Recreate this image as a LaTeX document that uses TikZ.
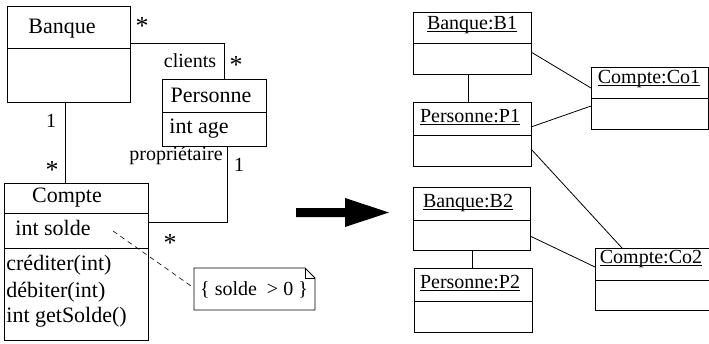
\documentclass[tikz,border=0pt]{standalone}
\usepackage{fontspec}
\setmainfont{Liberation Serif}
\newcommand\myul[1]{\setbox0\hbox{#1}\rlap{\rule[-2.6pt]{\wd0}{0.7pt}}\box0}
\begin{document}
\begin{tikzpicture}[x=1pt,y=-1pt,line width=0.8pt,
  box/.style={draw,inner sep=0pt,outer sep=0pt,anchor=north west},
  big/.style={inner sep=0pt,font=\fontsize{22}{24}\selectfont},
  med/.style={inner sep=0pt,font=\fontsize{20}{22}\selectfont},
  star/.style={inner sep=0pt,font=\fontsize{26}{28}\selectfont,anchor=base},
  obj/.style={inner sep=0pt,font=\fontsize{20}{22}\selectfont,anchor=base}]
\useasboundingbox (0,0) rectangle (709,343);
% ---------------- class diagram ----------------
\node[box,minimum width=123,minimum height=96] (banque) at (7,6) {};
\draw (banque.west |- 0,48) -- (banque.east |- 0,48);
\node[big,anchor=base] (tbanque) at (62,33) {Banque};

\node[box,minimum width=104,minimum height=67] (personne) at (162,79) {};
\draw (personne.west |- 0,112) -- (personne.east |- 0,112);
\node[big,anchor=base] (tpers) at (211,102) {Personne};
\node[big,anchor=base west] (tage) at (169,133) {int age};

\node[box,minimum width=144,minimum height=157] (compte) at (4,183) {};
\draw (compte.west |- 0,213) -- (compte.east |- 0,213);
\draw (compte.west |- 0,248) -- (compte.east |- 0,248);
\node[big,anchor=base] (tcompte) at (67,202) {Compte};
\node[big,anchor=base west] (tsolde) at (15,235) {int solde};
\node[big,anchor=base west] (m1) at (6,270) {créditer(int)};
\node[big,anchor=base west] (m2) at (6,297) {débiter(int)};
\node[big,anchor=base west] (m3) at (6,322) {int getSolde()};

% note
\coordinate (nA) at (194,268);
\coordinate (nB) at (305,268);
\coordinate (nC) at (315,278);
\coordinate (nD) at (315,310);
\coordinate (nE) at (194,310);
\draw (nA) -- (nB) -- (nC) -- (nD) -- (nE) -- cycle;
\draw (nB) -- (305,278) -- (nC);
\node[med,anchor=base] (note) at (254,295) {\{ solde \ > 0 \}};

% associations
\draw (banque.east |- 0,43) -| (224,0 |- personne.north);
\draw (65,0 |- banque.south) -- (65,0 |- compte.north);
\draw (227,0 |- personne.south) |- (compte.east |- 0,222);
\draw[dashed,line width=0.6pt,dash pattern=on 5pt off 4pt] (113,231) -- (nE |- 0,288);

\node[star] (s1) at (142,34.5) {*};
\node[med,anchor=base] (lcl) at (190,67) {clients};
\node[star] (s2) at (236,73.5) {*};
\node[med,anchor=base] (o1) at (51,127) {1};
\node[star] (s3) at (52,178) {*};
\node[med,anchor=base] (lpr) at (176,160) {propriétaire};
\node[med,anchor=base] (o2) at (239,171) {1};
\node[star] (s4) at (170,251) {*};

% big arrow
\fill (296,208) -- (345,208) -- (345,198) -- (389,212.5) -- (345,227) -- (345,217) -- (296,217) -- cycle;

% ---------------- object diagram ----------------
\node[box,minimum width=118,minimum height=62] (b1) at (413,12) {};
\draw (b1.west |- 0,43) -- (b1.east |- 0,43);
\node[obj] (tb1) at (472,29) {\myul{Banque:B1}};

\node[box,minimum width=118,minimum height=64] (p1) at (413,102) {};
\draw (p1.west |- 0,135) -- (p1.east |- 0,135);
\node[obj] (tp1) at (470,122) {\myul{Personne:P1}};

\node[box,minimum width=117,minimum height=62] (co1) at (591,67) {};
\draw (co1.west |- 0,98) -- (co1.east |- 0,98);
\node[obj] (tco1) at (649,83) {\myul{Compte:Co1}};

\node[box,minimum width=117,minimum height=63] (b2) at (413,187) {};
\draw (b2.west |- 0,220) -- (b2.east |- 0,220);
\node[obj] (tb2) at (468,207) {\myul{Banque:B2}};

\node[box,minimum width=118,minimum height=64] (p2) at (414,268) {};
\draw (p2.west |- 0,301) -- (p2.east |- 0,301);
\node[obj] (tp2) at (470,288) {\myul{Personne:P2}};

\node[box,minimum width=120,minimum height=62] (co2) at (595,248) {};
\draw (co2.west |- 0,280) -- (co2.east |- 0,280);
\node[obj] (tco2) at (651,263) {\myul{Compte:Co2}};

\draw (468,0 |- b1.south) -- (468,0 |- p1.north);
\draw (b1.east |- 0,52) -- (co1.west |- 0,88);
\draw (p1.east |- 0,127) -- (co1.west |- 0,106);
\draw (p1.east |- 0,149) -- (622,0 |- co2.north);
\draw (b2.east |- 0,236) -- (co2.west |- 0,267);
\draw (472,0 |- b2.south) -- (472,0 |- p2.north);
\end{tikzpicture}
\end{document}
